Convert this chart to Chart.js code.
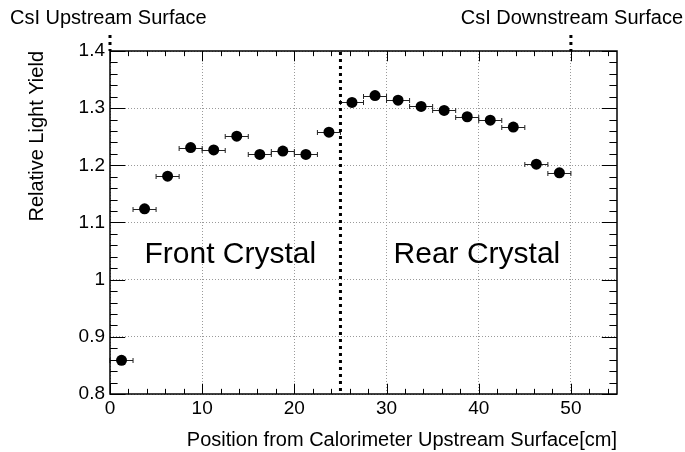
<!DOCTYPE html>
<html>
<head>
<meta charset="utf-8">
<script src="https://cdn.jsdelivr.net/npm/chart.js@4.4.1/dist/chart.umd.min.js"></script>
<style>
  html, body { margin: 0; padding: 0; background: #fff; }
  #wrap { width: 685px; height: 452px; }
</style>
</head>
<body>
<div id="wrap"><canvas id="c" width="685" height="452"></canvas></div>
<script>
// light yield per 2.5 cm slice along the calorimeter
var binCenters = [1.25, 3.75, 6.25, 8.75, 11.25, 13.75, 16.25, 18.75, 21.25, 23.75,
                  26.25, 28.75, 31.25, 33.75, 36.25, 38.75, 41.25, 43.75, 46.25, 48.75];
var lightYield = [0.859, 1.124, 1.181, 1.231, 1.227, 1.251, 1.219, 1.225, 1.219, 1.258,
                  1.310, 1.322, 1.314, 1.303, 1.296, 1.285, 1.279, 1.267, 1.202, 1.187];
var halfBin = 1.25;

// crystal boundaries (cm) and region labels
var surfaceUp = 0, crystalJoint = 25, surfaceDown = 50;
var regionNames = ["Front Crystal", "Rear Crystal"];
var regionX = [13.05, 39.8];
var regionY = 1.0435;

var xMin = 0, xMax = 55, xMajor = 10, xMinor = 2;
var yMin = 0.8, yMax = 1.4, yMajor = 0.1, yMinor = 0.02;

var FONT = "'Liberation Sans', Arial, Helvetica, sans-serif";

var points = binCenters.map(function(x, i) { return {x: x, y: lightYield[i]}; });

// ROOT-like frame: ticks inside on all four sides, error bars, dotted boundaries
var rootStyle = {
    id: "rootStyle",
    beforeDatasetsDraw: function(chart) {
        var ctx = chart.ctx, xs = chart.scales.x, ys = chart.scales.y;
        ctx.save();
        ctx.strokeStyle = "#222";
        ctx.lineWidth = 1;
        points.forEach(function(p) {
            var x0 = xs.getPixelForValue(p.x - halfBin);
            var x1 = xs.getPixelForValue(p.x + halfBin);
            var y = Math.round(ys.getPixelForValue(p.y)) + 0.5;
            ctx.beginPath();
            ctx.moveTo(x0, y); ctx.lineTo(x1, y);
            ctx.moveTo(x0, y - 2.5); ctx.lineTo(x0, y + 2.5);
            ctx.moveTo(x1, y - 2.5); ctx.lineTo(x1, y + 2.5);
            ctx.stroke();
        });
        ctx.restore();
    },
    afterDraw: function(chart) {
        var ctx = chart.ctx, a = chart.chartArea;
        var xs = chart.scales.x, ys = chart.scales.y;
        ctx.save();

        // inside ticks
        ctx.strokeStyle = "#000";
        ctx.lineWidth = 1;
        ctx.beginPath();
        var xl = (a.bottom - a.top) * 0.03;
        for (var v = xMin; v <= xMax + 1e-9; v += xMinor) {
            var px = Math.round(xs.getPixelForValue(v)) + 0.5;
            var major = Math.abs(v / xMajor - Math.round(v / xMajor)) < 1e-6;
            var len = major ? xl : xl / 2;
            ctx.moveTo(px, a.bottom); ctx.lineTo(px, a.bottom - len);
            ctx.moveTo(px, a.top); ctx.lineTo(px, a.top + len);
        }
        var yl = (a.right - a.left) * 0.03;
        for (var w = yMin; w <= yMax + 1e-9; w += yMinor) {
            var py = Math.round(ys.getPixelForValue(w)) + 0.5;
            var majorY = Math.abs(w / yMajor - Math.round(w / yMajor)) < 1e-6;
            var lenY = majorY ? yl : yl / 2;
            ctx.moveTo(a.left, py); ctx.lineTo(a.left + lenY, py);
            ctx.moveTo(a.right, py); ctx.lineTo(a.right - lenY, py);
        }
        ctx.stroke();

        // frame
        ctx.lineWidth = 1.5;
        ctx.strokeRect(a.left, a.top, a.right - a.left, a.bottom - a.top);

        // crystal boundaries
        ctx.lineWidth = 3;
        ctx.setLineDash([3, 4]);
        var xu = xs.getPixelForValue(surfaceUp);
        var xj = xs.getPixelForValue(crystalJoint);
        var xd = xs.getPixelForValue(surfaceDown);
        ctx.beginPath();
        ctx.moveTo(xu, a.top - 16); ctx.lineTo(xu, a.top);
        ctx.moveTo(xd, a.top - 16); ctx.lineTo(xd, a.top);
        ctx.moveTo(xj, a.top + 1); ctx.lineTo(xj, a.bottom);
        ctx.stroke();
        ctx.setLineDash([]);

        // labels
        ctx.fillStyle = "#000";
        ctx.textBaseline = "middle";
        ctx.font = "20px " + FONT;
        ctx.textAlign = "left";
        ctx.fillText("CsI Upstream Surface", 10, 18);
        ctx.textAlign = "right";
        ctx.fillText("CsI Downstream Surface", 683, 18);

        ctx.font = "30px " + FONT;
        ctx.textAlign = "center";
        regionNames.forEach(function(name, i) {
            ctx.fillText(name, xs.getPixelForValue(regionX[i]), ys.getPixelForValue(regionY));
        });
        ctx.restore();
    }
};

var chart = new Chart(document.getElementById("c").getContext("2d"), {
    type: "scatter",
    data: {
        datasets: [{
            data: points,
            backgroundColor: "#000",
            borderColor: "#000",
            borderWidth: 0,
            pointRadius: 5.5,
            pointHoverRadius: 5.5
        }]
    },
    options: {
        responsive: false,
        animation: false,
        events: [],
        layout: { padding: { left: 0, right: 68, top: 51, bottom: 0 } },
        plugins: { legend: { display: false }, tooltip: { enabled: false } },
        scales: {
            x: {
                type: "linear",
                min: xMin, max: xMax,
                afterFit: function(s) { s.height = 58; },
                ticks: {
                    stepSize: xMajor,
                    includeBounds: false,
                    padding: 3,
                    color: "#000",
                    font: { family: FONT, size: 19 },
                    maxRotation: 0
                },
                grid: { color: "#9a9a9a", lineWidth: 1, drawTicks: false },
                border: { display: false, dash: [1, 2] },
                title: {
                    display: true,
                    text: "Position from Calorimeter Upstream Surface[cm]",
                    align: "end",
                    color: "#000",
                    font: { family: FONT, size: 20 },
                    padding: { top: 0, bottom: 0 }
                }
            },
            y: {
                type: "linear",
                min: yMin, max: yMax,
                afterFit: function(s) { s.width = 110; },
                ticks: {
                    stepSize: yMajor,
                    padding: 5,
                    color: "#000",
                    font: { family: FONT, size: 19 },
                    callback: function(v) { return String(+v.toFixed(2)); }
                },
                grid: { color: "#9a9a9a", lineWidth: 1, drawTicks: false },
                border: { display: false, dash: [1, 2] },
                title: {
                    display: true,
                    text: "Relative Light Yield",
                    align: "end",
                    color: "#000",
                    font: { family: FONT, size: 20 },
                    padding: { top: 25, bottom: 0 }
                }
            }
        }
    },
    plugins: [rootStyle]
});
</script>
</body>
</html>
